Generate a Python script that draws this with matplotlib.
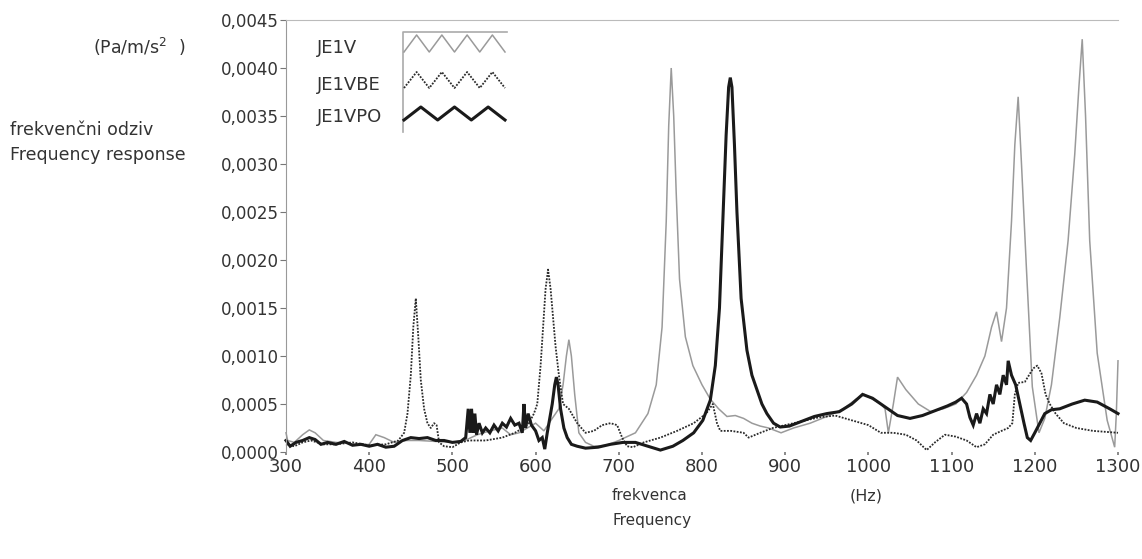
import numpy as np
import matplotlib
matplotlib.use("Agg")
import matplotlib.pyplot as plt
from matplotlib.lines import Line2D
from matplotlib.ticker import FuncFormatter

# (frequency Hz, response Pa/m/s^2)
je1v = [(300, 0.0002), (302, 0.00012), (310, 0.0001), (320, 0.00018), (328, 0.00023),
        (335, 0.0002), (345, 0.00012), (360, 0.0001), (375, 0.00009), (390, 0.00007),
        (400, 0.00008), (408, 0.00018), (418, 0.00015), (430, 0.0001), (445, 0.00012),
        (460, 0.00012), (480, 0.00011), (500, 0.0001), (515, 0.00012), (530, 0.00018),
        (545, 0.00022), (560, 0.00025), (570, 0.00018), (580, 0.0002), (590, 0.00025),
        (600, 0.0003), (610, 0.00022), (620, 0.00035), (628, 0.00045), (633, 0.0007),
        (637, 0.001), (640, 0.00117), (643, 0.001), (647, 0.0006), (652, 0.0002),
        (660, 0.0001), (670, 0.00006), (685, 0.00007), (700, 0.00012), (720, 0.0002),
        (735, 0.0004), (745, 0.0007), (752, 0.0013), (757, 0.0024), (760, 0.0034),
        (763, 0.0040), (766, 0.0035), (769, 0.0027), (773, 0.0018), (780, 0.0012),
        (789, 0.0009), (800, 0.0007), (810, 0.00055), (820, 0.00045), (830, 0.00037),
        (840, 0.00038), (850, 0.00035), (860, 0.0003), (870, 0.00027), (880, 0.00025),
        (895, 0.0002), (910, 0.00025), (930, 0.0003), (950, 0.00037), (970, 0.00045),
        (985, 0.00055), (995, 0.0006), (1005, 0.00055), (1015, 0.0005), (1020, 0.00045),
        (1024, 0.0002), (1030, 0.0005), (1035, 0.00078), (1045, 0.00065), (1060, 0.0005),
        (1075, 0.00042), (1090, 0.00045), (1105, 0.0005), (1118, 0.00062), (1130, 0.0008),
        (1140, 0.001), (1148, 0.0013), (1154, 0.00146), (1160, 0.00115), (1166, 0.0015),
        (1172, 0.0024), (1176, 0.0032), (1180, 0.0037), (1184, 0.003), (1190, 0.0019),
        (1197, 0.00068), (1205, 0.0002), (1212, 0.00035), (1220, 0.0007), (1230, 0.0014),
        (1240, 0.0022), (1248, 0.0031), (1253, 0.0038), (1257, 0.0043), (1261, 0.0035),
        (1266, 0.0022), (1275, 0.00103), (1287, 0.00033), (1296, 0.00005), (1298, 0.0004),
        (1300, 0.00095)]

je1vbe = [(300, 0.00008), (310, 0.00006), (320, 0.0001), (330, 0.00012), (345, 0.00008),
          (360, 0.00008), (380, 0.0001), (400, 0.00007), (420, 0.00008), (435, 0.00012),
          (442, 0.0002), (446, 0.0004), (450, 0.0008), (453, 0.0013), (456, 0.0016),
          (459, 0.0012), (462, 0.00075), (466, 0.00045), (470, 0.0003), (474, 0.00025),
          (478, 0.0003), (481, 0.00028), (484, 0.0001), (490, 0.00006), (500, 0.00005),
          (510, 0.0001), (520, 0.00012), (540, 0.00012), (560, 0.00015), (575, 0.0002),
          (585, 0.00025), (592, 0.0003), (598, 0.0004), (602, 0.0005), (606, 0.0009),
          (609, 0.0013), (612, 0.0017), (615, 0.0019), (618, 0.0017), (621, 0.0014),
          (624, 0.0011), (628, 0.0008), (633, 0.0005), (640, 0.00045), (650, 0.0003),
          (660, 0.0002), (670, 0.00022), (680, 0.00028), (690, 0.0003), (698, 0.00028),
          (704, 0.00015), (710, 0.00006), (717, 0.00005), (730, 0.0001), (750, 0.00015),
          (770, 0.00022), (790, 0.0003), (805, 0.0004), (813, 0.0005), (818, 0.0003),
          (822, 0.00022), (835, 0.00022), (850, 0.0002), (856, 0.00015), (870, 0.0002),
          (885, 0.00025), (900, 0.00028), (920, 0.00032), (940, 0.00036), (960, 0.00038),
          (980, 0.00033), (1000, 0.00028), (1015, 0.0002), (1030, 0.0002), (1045, 0.00018),
          (1058, 0.00012), (1070, 0.00002), (1080, 0.0001), (1092, 0.00018), (1105, 0.00016),
          (1118, 0.00012), (1130, 0.00005), (1140, 0.00008), (1150, 0.00018), (1160, 0.00022),
          (1168, 0.00025), (1173, 0.0003), (1176, 0.0006), (1180, 0.00072), (1188, 0.00073),
          (1193, 0.0008), (1198, 0.00087), (1203, 0.0009), (1208, 0.00082), (1213, 0.0006),
          (1218, 0.0005), (1225, 0.0004), (1235, 0.0003), (1250, 0.00025), (1270, 0.00022),
          (1300, 0.0002)]

je1vpo = [(300, 0.00012), (305, 0.00006), (312, 0.0001), (320, 0.00012), (328, 0.00015),
          (335, 0.00013), (342, 0.00008), (350, 0.0001), (360, 0.00008), (370, 0.00011),
          (380, 0.00007), (390, 0.00008), (400, 0.00006), (410, 0.00008), (420, 0.00005),
          (430, 0.00006), (440, 0.00012), (450, 0.00015), (460, 0.00014), (470, 0.00015),
          (480, 0.00012), (490, 0.00012), (500, 0.0001), (510, 0.00011), (516, 0.00015),
          (519, 0.00045), (521, 0.0002), (523, 0.00045), (525, 0.0002), (527, 0.0004),
          (529, 0.00018), (532, 0.0003), (536, 0.0002), (540, 0.00025), (545, 0.0002),
          (550, 0.00028), (555, 0.00022), (560, 0.0003), (565, 0.00026), (570, 0.00035),
          (575, 0.00028), (580, 0.0003), (584, 0.0002), (586, 0.0005), (588, 0.00025),
          (591, 0.0004), (595, 0.00028), (600, 0.00022), (604, 0.00012), (608, 0.00015),
          (611, 0.00003), (614, 0.0002), (617, 0.00035), (620, 0.0005), (623, 0.0007),
          (625, 0.00078), (627, 0.0007), (630, 0.00045), (634, 0.00025), (638, 0.00015),
          (643, 0.00008), (650, 0.00006), (660, 0.00004), (675, 0.00005), (690, 0.00008),
          (705, 0.0001), (720, 0.0001), (735, 0.00006), (750, 0.00002), (765, 0.00006),
          (777, 0.00012), (790, 0.0002), (801, 0.00033), (810, 0.00054), (816, 0.0009),
          (821, 0.0015), (825, 0.0024), (829, 0.0033), (832, 0.0038), (834, 0.0039),
          (836, 0.0038), (839, 0.0032), (842, 0.0025), (847, 0.0016), (854, 0.00106),
          (860, 0.0008), (866, 0.00065), (872, 0.0005), (878, 0.0004), (886, 0.0003),
          (894, 0.00026), (905, 0.00027), (920, 0.00032), (935, 0.00037), (950, 0.0004),
          (965, 0.00042), (980, 0.0005), (993, 0.0006), (1005, 0.00056), (1020, 0.00047),
          (1035, 0.00038), (1050, 0.00035), (1065, 0.00038), (1080, 0.00043), (1095, 0.00048),
          (1105, 0.00052), (1112, 0.00056), (1118, 0.0005), (1122, 0.00036), (1126, 0.00028),
          (1130, 0.0004), (1134, 0.0003), (1138, 0.00045), (1142, 0.0004), (1146, 0.0006),
          (1150, 0.0005), (1154, 0.0007), (1158, 0.0006), (1162, 0.0008), (1166, 0.0007),
          (1168, 0.00095), (1172, 0.0008), (1177, 0.0007), (1182, 0.0005), (1187, 0.0003),
          (1191, 0.00015), (1195, 0.00012), (1200, 0.0002), (1206, 0.0003), (1212, 0.0004),
          (1220, 0.00044), (1230, 0.00045), (1245, 0.0005), (1260, 0.00054), (1275, 0.00052),
          (1290, 0.00045), (1300, 0.0004)]

series_names = ["JE1V", "JE1VBE", "JE1VPO"]
xticks = [300, 400, 500, 600, 700, 800, 900, 1000, 1100, 1200, 1300]
yticks = [0.0, 0.0005, 0.001, 0.0015, 0.002, 0.0025, 0.003, 0.0035, 0.004, 0.0045]

W, H = 1142, 559
fig = plt.figure(figsize=(W / 100, H / 100), dpi=100)
ax = fig.add_axes([286 / W, 1 - 452 / H, (1118 - 286) / W, (452 - 20) / H])

styles = [dict(color="#9a9a9a", lw=1.1, ls="-"),
          dict(color="#2a2a2a", lw=1.3, ls=(0, (1, 0.8))),
          dict(color="#1a1a1a", lw=2.2, ls="-")]
for data, st in zip([je1v, je1vbe, je1vpo], styles):
    f, a = np.array(data).T
    ax.plot(f, a, clip_on=False, solid_joinstyle="miter", **st)

ax.set_xlim(300, 1300)
ax.set_ylim(0, 0.0045)
ax.set_xticks(xticks)
ax.set_yticks(yticks)
ax.yaxis.set_major_formatter(FuncFormatter(lambda v, p: f"{v:.4f}".replace(".", ",")))
for s in ["right", "bottom"]:
    ax.spines[s].set_visible(False)
ax.spines["left"].set_color("#999999")
ax.spines["top"].set_color("#bbbbbb")
ax.tick_params(axis="y", length=4, color="#777777", labelsize=12, labelcolor="#333333", pad=1)
ax.tick_params(axis="x", length=2, width=1.2, color="#777777", labelsize=13, labelcolor="#333333", pad=2)


def fx(px):
    return px / W


def fy(py):
    return 1 - py / H


# texts around the plot
tc = "#333333"
fig.text(fx(139), fy(47), "(Pa/m/s$^2$  )", ha="center", va="center", fontsize=12.5, color=tc)
fig.text(fx(10), fy(130), "frekvenčni odziv", ha="left", va="center", fontsize=12.5, color=tc)
fig.text(fx(10), fy(155), "Frequency response", ha="left", va="center", fontsize=12.5, color=tc)
fig.text(fx(612), fy(496), "frekvenca", ha="left", va="center", fontsize=11, color=tc)
fig.text(fx(612), fy(521), "Frequency", ha="left", va="center", fontsize=11, color=tc)
fig.text(fx(850), fy(496), "(Hz)", ha="left", va="center", fontsize=11.5, color=tc)

# legend: labels on the left, zigzag samples in a half-open box
fig.add_artist(Line2D([fx(403), fx(403), fx(507)], [fy(132), fy(32), fy(32)],
                      color="#aaaaaa", lw=1.2))
leg_y = [(48, 35, 52, 4), (85, 72, 88, 4), (117, 107, 120, 3)]
for name, st, (ty, top, bot, n) in zip(series_names, styles, leg_y):
    fig.text(fx(317), fy(ty), name, ha="left", va="center", fontsize=13, color=tc)
    xs = np.linspace(404, 505, 2 * n + 1)
    ys = np.where(np.arange(2 * n + 1) % 2 == 0, bot, top)
    fig.add_artist(Line2D(fx(xs), fy(ys), **st))

fig.savefig("out.png", dpi=100)
